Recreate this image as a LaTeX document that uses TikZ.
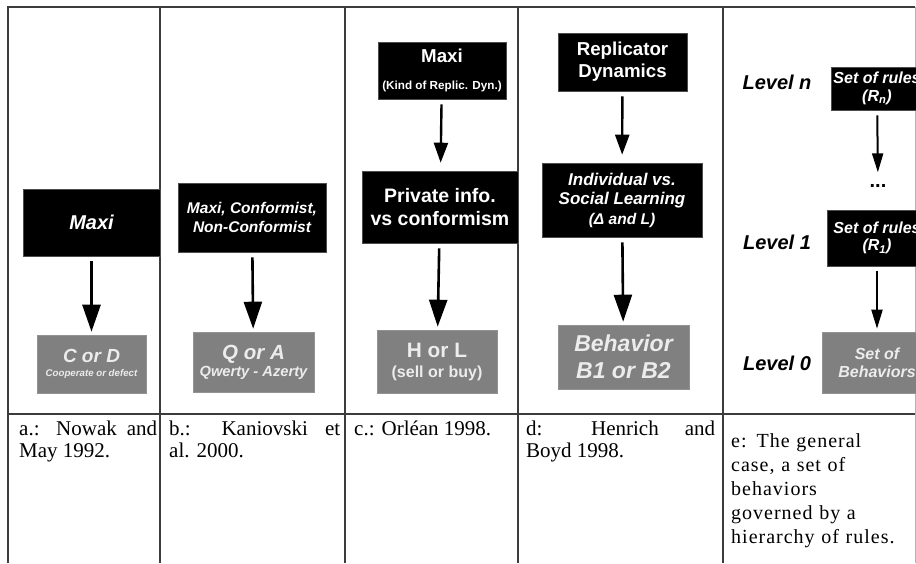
\documentclass[tikz,border=0pt]{standalone}
\usepackage{fontspec}
\setmainfont{Liberation Serif}
\newfontfamily\boxfont{Liberation Sans}
\usetikzlibrary{arrows.meta}
\definecolor{tableline}{RGB}{60,60,60}
\definecolor{behavfill}{RGB}{128,128,128}
\definecolor{behavtext}{RGB}{236,236,236}
\begin{document}
\begin{tikzpicture}[x=1pt, y=-1pt, inner sep=0pt,
  rule box/.style={draw=gray!60!black, line width=0.6pt, fill=black, text=white, align=center},
  behav box/.style={draw=gray!85, line width=0.6pt, fill=behavfill, text=behavtext, align=center},
  sz/.style 2 args={font=\boxfont\bfseries\fontsize{#1}{#2}\selectfont},
  szi/.style 2 args={font=\boxfont\bfseries\itshape\fontsize{#1}{#2}\selectfont},
  level label/.style={szi={20}{24}},
  flow/.style={-{Triangle[width=18pt,length=27pt]}, line width=2.6pt, shorten <=5pt, shorten >=3pt},
  short flow/.style={-{Triangle[width=14pt,length=20pt]}, line width=2.4pt, shorten <=5pt, shorten >=8pt},
  small flow/.style={-{Triangle[width=11pt,length=19pt]}, line width=2pt, shorten <=5pt, shorten >=3pt},
  caption/.style={anchor=base west, align=justify, font=\fontsize{21}{22}\selectfont}]%
\path[use as bounding box] (0,0) rectangle (916,563);
\clip (0,0) rectangle (916,563);
% table
\begin{scope}[tableline, line width=1.6pt]
\draw (8,563) -- (8,7) -- (915,7);
\draw (8,414) -- (915,414);
\foreach \colx in {160,345,518,723}
  \draw (\colx,7) -- (\colx,563);
\draw[gray!60, line width=1pt] (915,7) -- (915,563);
\end{scope}
% a: Nowak and May
\node[rule box, szi={20}{24}, minimum width=137pt, minimum height=67pt] (maxiA) at (91.5,222.5) {Maxi};
\node[behav box, szi={19}{14}, minimum width=109pt, minimum height=58pt] (cdA) at (91.5,364) {C or D\\\fontsize{9.7}{12}\selectfont Cooperate or defect};
\draw[flow] (maxiA) -- (cdA);
% b: Kaniovski et al.
\node[rule box, szi={15.5}{19}, minimum width=148pt, minimum height=69pt] (rulesB) at (252,217.5) {Maxi, Conformist,\\Non-Conformist};
\node[behav box, szi={20.5}{17}, minimum width=121pt, minimum height=60pt] (qaB) at (253.5,362) {Q or A\\\fontsize{14.7}{17}\selectfont Qwerty - Azerty};
\draw[flow] (rulesB) -- (qaB);
% c: Orlean
\node[rule box, sz={18.7}{27}, minimum width=128pt, minimum height=57pt] (maxiC) at (442,70.5) {Maxi\\\fontsize{11.7}{14}\selectfont (Kind of Replic. Dyn.)};
\node[rule box, sz={19.5}{23}, minimum width=156pt, minimum height=72pt] (privC) at (440,207) {Private info.\\vs conformism};
\node[behav box, sz={20.8}{20}, minimum width=120pt, minimum height=63pt] (hlC) at (437,361.5) {H or L\\\fontsize{16}{20}\selectfont (sell or buy)};
\draw[short flow] (maxiC) -- (privC);
\draw[flow] (privC) -- (hlC);
% d: Henrich and Boyd
\node[rule box, sz={18.7}{22}, minimum width=129pt, minimum height=58pt] (replD) at (622.5,62) {Replicator\\Dynamics};
\node[rule box, szi={17}{19.5}, minimum width=160pt, minimum height=74pt] (learnD) at (622,200) {Individual vs.\\Social Learning\\\fontsize{15.5}{19}\selectfont (Δ and L)};
\node[behav box, szi={23}{27}, minimum width=131pt, minimum height=64pt] (behD) at (623.5,357) {Behavior\\B1 or B2};
\draw[short flow] (replD) -- (learnD);
\draw[flow] (learnD) -- (behD);
% e: general case
\node[level label] (lvN) at (777,82) {Level n};
\node[level label] (lv1) at (777,242) {Level 1};
\node[level label] (lv0) at (777,363) {Level 0};
\node[rule box, szi={16}{17.5}, minimum width=92pt, minimum height=43pt] (rulesN) at (877,88.5) {Set of rules\\(R\textsubscript{n})};
\node[sz={20}{24}] (dots) at (878,186) {...};
\node[rule box, szi={16}{17}, minimum width=100pt, minimum height=56pt] (rules1) at (877,238) {Set of rules\\(R\textsubscript{1})};
\node[behav box, szi={16}{18}, minimum width=110pt, minimum height=61pt] (behavE) at (877,362.5) {Set of\\Behaviors};
\draw[small flow, shorten >=12pt] (rulesN) -- (dots);
\draw[small flow] (rules1) -- (behavE);
% captions
\node[caption, text width=138pt] (capA) at (19,435) {a.: Nowak and\linebreak May 1992.};
\node[caption, text width=171pt] (capB) at (169,435) {b.: Kaniovski et\linebreak al. 2000.};
\node[caption, text width=160pt] (capC) at (354,435) {c.: Orléan 1998.};
\node[caption, text width=189pt] (capD) at (526,435) {d: Henrich and\linebreak Boyd 1998.};
\node[caption, text width=180pt, align=left, font=\addfontfeature{LetterSpace=5}\fontsize{20}{24}\selectfont] (capE) at (731,447) {e: The general\\case, a set of\\behaviors\\governed by a\\hierarchy of rules.};
\end{tikzpicture}
\end{document}
